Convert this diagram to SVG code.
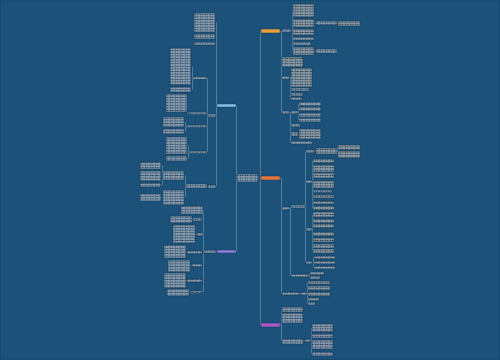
<svg xmlns="http://www.w3.org/2000/svg" width="500" height="360" viewBox="0 0 500 360">
<style>
.bg{fill:#1c5279}
rect{stroke:#123a58;stroke-width:0.5}
.w{fill:url(#pw)}
.o{fill:url(#po)}
.l{fill:url(#pl)}
.p{fill:url(#pp)}
.b1{fill:#e9a03a}
.b2{fill:#e8763c}
.b3{fill:#a958c8}
.b4{fill:#8cc0e6}
.b5{fill:#8f7fdc}
#links path{fill:none;stroke:#7fa5c0;stroke-width:0.55}
</style>
<defs>
<pattern id="pw" width="5" height="2.6" patternUnits="userSpaceOnUse"><rect width="5" height="2.6" fill="#fbfbfc" stroke="none"/><rect x="0.4" y="0.9" width="1.8" height="0.8" fill="#a9acb6" stroke="none"/><rect x="2.6" y="0.9" width="1.9" height="0.8" fill="#bfc1c9" stroke="none"/></pattern>
<pattern id="po" width="5" height="2.6" patternUnits="userSpaceOnUse"><rect width="5" height="2.6" fill="#fdf6ef" stroke="none"/><rect x="0.4" y="0.9" width="1.8" height="0.8" fill="#e3a882" stroke="none"/><rect x="2.6" y="0.9" width="1.9" height="0.8" fill="#ebbd9d" stroke="none"/></pattern>
<pattern id="pl" width="5" height="2.6" patternUnits="userSpaceOnUse"><rect width="5" height="2.6" fill="#f8f7fb" stroke="none"/><rect x="0.4" y="0.9" width="1.8" height="0.8" fill="#a9a7cc" stroke="none"/><rect x="2.6" y="0.9" width="1.9" height="0.8" fill="#bcbad6" stroke="none"/></pattern>
<pattern id="pp" width="5" height="2.6" patternUnits="userSpaceOnUse"><rect width="5" height="2.6" fill="#fbf5fa" stroke="none"/><rect x="0.4" y="0.9" width="1.8" height="0.8" fill="#c79ac7" stroke="none"/><rect x="2.6" y="0.9" width="1.9" height="0.8" fill="#d6b3d6" stroke="none"/></pattern>
</defs>
<rect class="bg" x="0" y="0" width="500" height="360" stroke="none"/>
<g id="links">
<path d="M258 178H260.5M260.5 31V325"/>
<path d="M280 31H281.5M281.5 30.5V112.5"/>
<path d="M291 30.5H292.5M292.5 10.5V51M314 23H316M337 23H338M314 51H316"/>
<path d="M289 77.5H290.5M290.5 77.5V98.5"/>
<path d="M289 112.5H291M290.5 112.5V142.5M298 112.5H298.5M298.5 104V120M298 134H299"/>
<path d="M280 178H281.5M281.5 178V293.5"/>
<path d="M289 208.5H290.5M290.5 206.5V275.5"/>
<path d="M305 206.5H305.5M305.5 151.5V262M314 151H316M337 151H337.5M337.5 147.5V154.5"/>
<path d="M312 182H312.5M312.5 161V208M312 229.5H312.5M312.5 214.5V251M312 262H313.5M313.5 257.5V267.5"/>
<path d="M308 275.5H309.5M309.5 273.5V277.5M299 293.5H301M307 293.5H307.5M307.5 282.5V303.5"/>
<path d="M280 325H281.5M281.5 309.5V341.5M303 341H305M310 340.5H311.5M311.5 328V354"/>
<path d="M237 178H236.5M236.5 105.5V251.5"/>
<path d="M217 105.5H216.5M216.5 22.5V186.5"/>
<path d="M208 115.5H207.5M207.5 78V152M193 78H192.5M192.5 66.5V89.5M189 113H187M186 126H185.5M185.5 122V131.5M189 152H188.5M188.5 145.5V158.5"/>
<path d="M208 186.5H207M186 186H185.5M185.5 175.5V197.5M163 175.5H162.5M162.5 165.5V185M163 197.5H161"/>
<path d="M217 251.5H216M204 251.5H203.5M203.5 210V292M193 219.5H192M197 234.5H195M187 252.5H186M192 265.5H190M187 280.5H186M190 292H189"/>
</g>
<g id="center"><rect class="w" x="237" y="174" width="21" height="8"/></g>
<g id="r1"><rect class="b1" x="261" y="29" width="19" height="4"/></g>
<g id="r1a"><rect class="w" x="282" y="29" width="9" height="3"/></g>
<g id="r1a1"><rect class="o" x="293" y="4" width="21" height="13"/></g>
<g id="r1a2"><rect class="o" x="293" y="19" width="21" height="8"/></g>
<g id="r1a2a"><rect class="w" x="316" y="21" width="21" height="4"/></g>
<g id="r1a2b"><rect class="o" x="338" y="21" width="22" height="5"/></g>
<g id="r1a3"><rect class="o" x="293" y="29" width="21" height="6"/></g>
<g id="r1a4"><rect class="w" x="293" y="37" width="21" height="3"/></g>
<g id="r1a5"><rect class="w" x="293" y="42" width="18" height="3"/></g>
<g id="r1a6"><rect class="o" x="293" y="47" width="21" height="8"/></g>
<g id="r1a6a"><rect class="w" x="316" y="49" width="21" height="4"/></g>
<g id="r1b"><rect class="o" x="282" y="57" width="21" height="10"/></g>
<g id="r1c"><rect class="w" x="282" y="76" width="7" height="3"/></g>
<g id="r1c1"><rect class="o" x="291" y="68" width="21" height="19"/></g>
<g id="r1c2"><rect class="w" x="291" y="88" width="18" height="3"/></g>
<g id="r1c3"><rect class="w" x="291" y="93" width="12" height="3"/></g>
<g id="r1c4"><rect class="w" x="291" y="97" width="11" height="3"/></g>
<g id="r1d"><rect class="w" x="282" y="111" width="7" height="3"/></g>
<g id="r1d1"><rect class="w" x="291" y="111" width="7" height="3"/></g>
<g id="r1d1a"><rect class="w" x="299" y="102" width="22" height="4"/></g>
<g id="r1d1b"><rect class="w" x="299" y="107" width="22" height="4"/></g>
<g id="r1d1c"><rect class="w" x="299" y="113" width="22" height="4"/></g>
<g id="r1d1d"><rect class="w" x="299" y="118" width="22" height="4"/></g>
<g id="r1d2"><rect class="w" x="291" y="124" width="9" height="3"/></g>
<g id="r1d3"><rect class="w" x="291" y="132" width="7" height="4"/></g>
<g id="r1d3a"><rect class="o" x="299" y="129" width="22" height="10"/></g>
<g id="r1d4"><rect class="w" x="291" y="141" width="21" height="3"/></g>
<g id="r2"><rect class="b2" x="261" y="176" width="19" height="4"/></g>
<g id="r2a"><rect class="w" x="282" y="207" width="7" height="3"/></g>
<g id="r2a1"><rect class="w" x="291" y="205" width="14" height="3"/></g>
<g id="r2a1a"><rect class="w" x="306" y="150" width="8" height="3"/></g>
<g id="r2a1a1"><rect class="o" x="316" y="148" width="21" height="6"/></g>
<g id="r2a1a2"><rect class="o" x="338" y="145" width="22" height="5"/></g>
<g id="r2a1a3"><rect class="o" x="338" y="151" width="22" height="7"/></g>
<g id="r2a1b"><rect class="w" x="306" y="180" width="6" height="3"/></g>
<g id="r2b01"><rect class="o" x="313" y="159" width="21" height="4"/></g>
<g id="r2b02"><rect class="o" x="313" y="165" width="21" height="7"/></g>
<g id="r2b03"><rect class="o" x="313" y="173" width="21" height="5"/></g>
<g id="r2b04"><rect class="o" x="313" y="181" width="21" height="7"/></g>
<g id="r2b05"><rect class="w" x="313" y="190" width="19" height="2.5"/></g>
<g id="r2b06"><rect class="o" x="313" y="195" width="21" height="3"/></g>
<g id="r2b07"><rect class="o" x="313" y="201" width="21" height="3"/></g>
<g id="r2b08"><rect class="o" x="313" y="206" width="21" height="4"/></g>
<g id="r2a1c"><rect class="w" x="306" y="228" width="6" height="3"/></g>
<g id="r2c01"><rect class="o" x="313" y="212" width="21" height="5"/></g>
<g id="r2c02"><rect class="o" x="313" y="219" width="21" height="4"/></g>
<g id="r2c03"><rect class="o" x="313" y="224" width="21" height="4"/></g>
<g id="r2c04"><rect class="o" x="313" y="232" width="21" height="4"/></g>
<g id="r2c05"><rect class="o" x="313" y="238" width="21" height="4"/></g>
<g id="r2c06"><rect class="o" x="313" y="244" width="21" height="4"/></g>
<g id="r2c07"><rect class="o" x="313" y="249" width="21" height="4"/></g>
<g id="r2a1d"><rect class="w" x="306" y="261" width="6" height="3"/></g>
<g id="r2d01"><rect class="w" x="314" y="256" width="21" height="3"/></g>
<g id="r2d02"><rect class="o" x="314" y="261" width="21" height="3"/></g>
<g id="r2d03"><rect class="w" x="314" y="266" width="21" height="3"/></g>
<g id="r2a2"><rect class="w" x="291" y="274" width="17" height="3"/></g>
<g id="r2a2a"><rect class="w" x="310" y="272" width="14" height="3"/></g>
<g id="r2a2b"><rect class="w" x="310" y="276" width="10" height="3"/></g>
<g id="r2b"><rect class="w" x="282" y="292" width="17" height="3"/></g>
<g id="r2b1"><rect class="w" x="301" y="292" width="6" height="3"/></g>
<g id="r2e01"><rect class="o" x="308" y="281" width="22" height="3"/></g>
<g id="r2e02"><rect class="o" x="308" y="286" width="22" height="4"/></g>
<g id="r2e03"><rect class="o" x="308" y="292" width="22" height="4"/></g>
<g id="r2e04"><rect class="w" x="308" y="298" width="11" height="3"/></g>
<g id="r2e05"><rect class="w" x="308" y="302" width="7" height="3"/></g>
<g id="r3"><rect class="b3" x="261" y="323" width="19" height="4"/></g>
<g id="r3a"><rect class="p" x="282" y="307" width="21" height="5"/></g>
<g id="r3b"><rect class="p" x="282" y="313" width="21" height="10"/></g>
<g id="r3c"><rect class="p" x="282" y="339" width="21" height="5"/></g>
<g id="r3c1"><rect class="w" x="305" y="339" width="5" height="3"/></g>
<g id="r3c1a"><rect class="p" x="312" y="324" width="21" height="8"/></g>
<g id="r3c1b"><rect class="p" x="312" y="334" width="21" height="4"/></g>
<g id="r3c1c"><rect class="p" x="312" y="340" width="21" height="9"/></g>
<g id="r3c1d"><rect class="p" x="312" y="352" width="21" height="4"/></g>
<g id="l1"><rect class="b4" x="217" y="104" width="19" height="3"/></g>
<g id="l1a"><rect class="l" x="194" y="13" width="21" height="19"/></g>
<g id="l1b"><rect class="l" x="194" y="34" width="21" height="5"/></g>
<g id="l1c"><rect class="l" x="194" y="42" width="21" height="3"/></g>
<g id="l1d"><rect class="w" x="208" y="114" width="8" height="3"/></g>
<g id="l1d1"><rect class="w" x="193" y="77" width="14" height="2.5"/></g>
<g id="l1d1a"><rect class="l" x="170" y="48" width="21" height="37"/></g>
<g id="l1d1b"><rect class="l" x="170" y="87" width="21" height="5"/></g>
<g id="l1d2"><rect class="w" x="189" y="112" width="18" height="2.5"/></g>
<g id="l1d2a"><rect class="l" x="166" y="94" width="21" height="18"/></g>
<g id="l1d3"><rect class="w" x="186" y="125" width="21" height="2.5"/></g>
<g id="l1d3a"><rect class="l" x="163" y="117" width="21" height="10"/></g>
<g id="l1d3b"><rect class="l" x="163" y="129" width="21" height="5"/></g>
<g id="l1d4"><rect class="w" x="189" y="151" width="18" height="2.5"/></g>
<g id="l1d4a"><rect class="l" x="166" y="137" width="21" height="17"/></g>
<g id="l1d4b"><rect class="l" x="166" y="156" width="21" height="5"/></g>
<g id="l1e"><rect class="w" x="208" y="185" width="8" height="3"/></g>
<g id="l1e1"><rect class="w" x="186" y="184" width="21" height="4"/></g>
<g id="l1e1a"><rect class="l" x="163" y="171" width="21" height="9"/></g>
<g id="l1e1b"><rect class="l" x="163" y="190" width="21" height="15"/></g>
<g id="l1e1a1"><rect class="l" x="140" y="162" width="21" height="7"/></g>
<g id="l1e1a2"><rect class="l" x="140" y="171" width="21" height="10"/></g>
<g id="l1e1a3"><rect class="l" x="140" y="183" width="21" height="4"/></g>
<g id="l1e1b1"><rect class="l" x="140" y="194" width="21" height="7"/></g>
<g id="l2"><rect class="b5" x="217" y="250" width="19" height="3"/></g>
<g id="l2a"><rect class="w" x="204" y="250" width="12" height="3"/></g>
<g id="l2a1"><rect class="l" x="181" y="206" width="22" height="8"/></g>
<g id="l2a2"><rect class="w" x="193" y="218" width="9" height="3"/></g>
<g id="l2a2a"><rect class="l" x="170" y="216" width="22" height="7"/></g>
<g id="l2a3"><rect class="w" x="197" y="233" width="6" height="3"/></g>
<g id="l2a3a"><rect class="l" x="173" y="225" width="22" height="18"/></g>
<g id="l2a4"><rect class="w" x="187" y="251" width="15" height="3"/></g>
<g id="l2a4a"><rect class="l" x="164" y="245" width="22" height="13"/></g>
<g id="l2a5"><rect class="w" x="192" y="264" width="10" height="3"/></g>
<g id="l2a5a"><rect class="l" x="168" y="260" width="22" height="12"/></g>
<g id="l2a6"><rect class="w" x="187" y="279" width="15" height="3"/></g>
<g id="l2a6a"><rect class="l" x="164" y="273" width="22" height="15"/></g>
<g id="l2a7"><rect class="w" x="190" y="291" width="13" height="2.5"/></g>
<g id="l2a7a"><rect class="l" x="167" y="289" width="22" height="7"/></g>
</svg>
